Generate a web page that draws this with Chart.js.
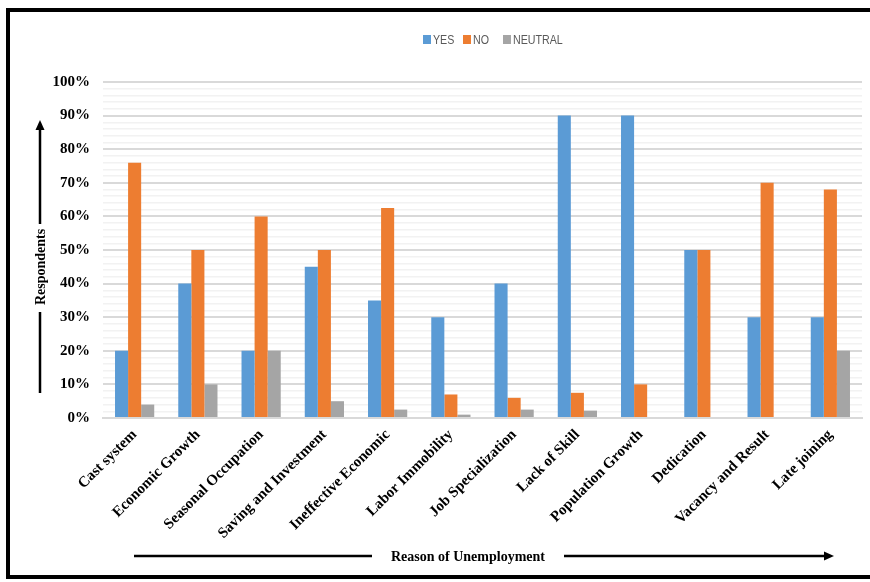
<!DOCTYPE html>
<html>
<head>
<meta charset="utf-8">
<script src="https://cdn.jsdelivr.net/npm/chart.js@4.4.1/dist/chart.umd.min.js"></script>
<style>
html,body{margin:0;padding:0;background:#fff;}
#wrap{position:relative;width:870px;height:582px;}
</style>
</head>
<body>
<div id="wrap"><canvas id="c" width="870" height="582"></canvas></div>
<script>
const categories = ["Cast system","Economic Growth","Seasonal Occupation","Saving and Investment","Ineffective Economic","Labor Immobility","Job Specialization","Lack of Skill","Population Growth","Dedication","Vacancy and Result","Late joining"];
const yesValues = [20, 40, 20, 45, 35, 30, 40, 90, 90, 50, 30, 30];
const noValues = [76, 50, 60, 50, 62.5, 7, 6, 7.5, 10, 50, 70, 68];
const neutralValues = [4, 10, 20, 5, 2.5, 1, 2.5, 2.2, 0, 0, 0, 20];
const seriesNames = ["YES", "NO", "NEUTRAL"];
const seriesColors = ["#5B9BD5", "#ED7D31", "#A5A5A5"];
const yTitle = "Respondents";
const xTitle = "Reason of Unemployment";

const serif = "'Liberation Serif','Times New Roman',serif";
const narrow = "'Liberation Sans Narrow','Arial Narrow','Liberation Sans',sans-serif";

const decor = {
  id: 'decor',
  beforeDraw(chart) {
    const ctx = chart.ctx;
    ctx.save();
    ctx.fillStyle = '#fff';
    ctx.fillRect(0, 0, chart.width, chart.height);
    ctx.restore();
  },
  afterDraw(chart) {
    const ctx = chart.ctx;
    ctx.save();
    // frame
    ctx.strokeStyle = '#000';
    ctx.lineWidth = 4;
    ctx.beginPath();
    ctx.moveTo(874, 10);
    ctx.lineTo(8, 10);
    ctx.lineTo(8, 577);
    ctx.lineTo(874, 577);
    ctx.stroke();

    // legend
    const lx = [423, 463, 503];
    ctx.font = "13px " + narrow;
    ctx.textBaseline = 'middle';
    ctx.textAlign = 'left';
    for (let i = 0; i < 3; i++) {
      ctx.fillStyle = seriesColors[i];
      ctx.fillRect(lx[i], 35, 8, 9);
      ctx.fillStyle = '#595959';
      ctx.save();
      ctx.translate(lx[i] + 10, 40);
      ctx.scale(0.82, 1);
      ctx.fillText(seriesNames[i], 0, 0);
      ctx.restore();
    }

    // x title with arrow
    ctx.fillStyle = '#000';
    ctx.font = "bold 14px " + serif;
    ctx.textAlign = 'center';
    ctx.textBaseline = 'middle';
    ctx.fillText(xTitle, 468, 557);
    ctx.strokeStyle = '#000';
    ctx.lineWidth = 2.5;
    ctx.beginPath();
    ctx.moveTo(134, 556); ctx.lineTo(372, 556);
    ctx.moveTo(564, 556); ctx.lineTo(826, 556);
    ctx.stroke();
    ctx.beginPath();
    ctx.moveTo(834, 556); ctx.lineTo(824, 551.5); ctx.lineTo(824, 560.5); ctx.closePath();
    ctx.fill();

    // y title with arrow
    ctx.save();
    ctx.translate(41, 267);
    ctx.rotate(-Math.PI / 2);
    ctx.fillText(yTitle, 0, 0);
    ctx.restore();
    ctx.beginPath();
    ctx.moveTo(40, 393); ctx.lineTo(40, 312);
    ctx.moveTo(40, 224); ctx.lineTo(40, 128);
    ctx.stroke();
    ctx.beginPath();
    ctx.moveTo(40, 120); ctx.lineTo(35.5, 130); ctx.lineTo(44.5, 130); ctx.closePath();
    ctx.fill();
    ctx.restore();
  }
};

new Chart(document.getElementById('c'), {
  type: 'bar',
  data: {
    labels: categories,
    datasets: [
      { label: seriesNames[0], data: yesValues, backgroundColor: seriesColors[0] },
      { label: seriesNames[1], data: noValues, backgroundColor: seriesColors[1] },
      { label: seriesNames[2], data: neutralValues, backgroundColor: seriesColors[2] }
    ]
  },
  options: {
    responsive: false,
    animation: false,
    devicePixelRatio: 1,
    layout: { padding: { top: 82, right: 8, left: 0, bottom: 0 } },
    datasets: { bar: { categoryPercentage: 0.62, barPercentage: 1.0 } },
    plugins: { legend: { display: false }, tooltip: { enabled: false } },
    scales: {
      x: {
        grid: { display: false, drawTicks: false },
        border: { display: true, color: '#d9d9d9', width: 2 },
        ticks: {
          autoSkip: false, minRotation: 45, maxRotation: 45, padding: 8,
          color: '#000', font: { family: serif, size: 15, weight: 'bold' }
        },
        afterFit(scale) { scale.height = 164; }
      },
      y: {
        min: 0, max: 100,
        grid: {
          drawTicks: false,
          color: (c) => (c.tick && c.tick.value % 10 === 0) ? '#d9d9d9' : '#f2f2f2',
          lineWidth: (c) => (c.tick && c.tick.value % 10 === 0) ? 2 : 1.5
        },
        border: { display: false },
        ticks: {
          stepSize: 2, autoSkip: false, padding: 13,
          color: '#000', font: { family: serif, size: 15, weight: 'bold' },
          callback: (v) => (v % 10 === 0) ? v + '%' : ''
        },
        afterFit(scale) { scale.width = 103; }
      }
    }
  },
  plugins: [decor]
});
</script>
</body>
</html>
